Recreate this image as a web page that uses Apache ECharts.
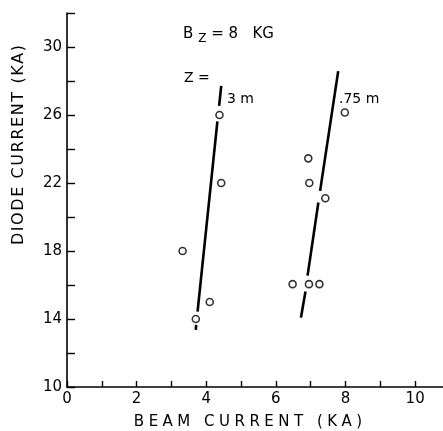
<!DOCTYPE html>
<html>
<head>
<meta charset="utf-8">
<script src="https://cdn.jsdelivr.net/npm/echarts@6/dist/echarts.min.js"></script>
<style>html,body{margin:0;padding:0;background:#fff}#c{width:443px;height:431px}</style>
</head>
<body>
<div id="c"></div>
<script>
// ---- data ----
var xName = 'BEAM CURRENT (KA)';
var yName = 'DIODE CURRENT (KA)';
var xTickLabels = [0, 2, 4, 6, 8, 10];
var yTickLabels = [10, 14, 18, 22, 26, 30];
// Z = 3 m
var x3 = [3.70, 4.10, 3.32, 4.43, 4.38];
var y3 = [14.0, 15.0, 18.0, 22.0, 26.0];
// Z = .75 m
var x75 = [6.48, 6.95, 7.25, 7.42, 6.96, 6.93, 7.98];
var y75 = [16.05, 16.05, 16.05, 21.1, 22.0, 23.45, 26.15];
// hand-drawn fit lines (broken around points)
var fit3 = [
  [[3.70, 13.36], [3.71, 13.65]],
  [[3.75, 14.44], [4.32, 25.62]],
  [[4.37, 26.53], [4.43, 27.72]]
];
var fit75 = [
  [[6.72, 14.08], [6.85, 15.62]],
  [[6.91, 16.55], [7.22, 20.85]],
  [[7.27, 21.54], [7.79, 28.58]]
];

function spaced(s, gap) {
  return s.split(' ').map(function (w) { return w.split('').join(gap); }).join(gap + ' ' + gap);
}
function pairs(xs, ys) { return xs.map(function (v, i) { return [v, ys[i]]; }); }

var FONT = 'DejaVu Sans';
var chart = echarts.init(document.getElementById('c'), null, { renderer: 'canvas' });

var series = [];
fit3.concat(fit75).forEach(function (seg) {
  series.push({
    type: 'line', data: seg, symbol: 'none', silent: true,
    lineStyle: { color: '#000', width: 2.6 }, z: 2
  });
});
series.push({
  type: 'scatter', data: pairs(x3, y3), symbol: 'circle', symbolSize: 7,
  itemStyle: { color: '#fff', borderColor: '#000', borderWidth: 1.6 }, z: 3
});
series.push({
  type: 'scatter', data: pairs(x75, y75), symbol: 'circle', symbolSize: 7,
  itemStyle: { color: '#fff', borderColor: '#000', borderWidth: 1.6 }, z: 3
});

chart.setOption({
  animation: false,
  backgroundColor: '#fff',
  grid: { left: 67, top: 13, width: 376, height: 374, outerBoundsMode: 'none', containLabel: false },
  xAxis: {
    type: 'value', min: 0, max: 10.8, interval: 1,
    name: spaced(xName, '\u2009\u200a'), nameLocation: 'middle', nameGap: 28,
    nameTextStyle: { color: '#000', fontFamily: FONT, fontSize: 15, padding: [0, 14, 0, 0] },
    axisLine: { show: true, lineStyle: { color: '#000', width: 1.6 } },
    axisTick: { show: true, inside: true, length: 6, lineStyle: { color: '#000', width: 1.4 } },
    axisLabel: {
      color: '#000', fontFamily: FONT, fontSize: 15, margin: 5, showMaxLabel: false,
      formatter: function (v) { return xTickLabels.indexOf(v) >= 0 ? String(v) : ''; }
    },
    splitLine: { show: false }
  },
  yAxis: {
    type: 'value', min: 10, max: 32, interval: 2,
    name: spaced(yName, '\u200a'), nameLocation: 'middle', nameGap: 40, nameRotate: 90,
    nameTextStyle: { color: '#000', fontFamily: FONT, fontSize: 16, padding: [0, 0, 0, 110] },
    axisLine: { show: true, lineStyle: { color: '#000', width: 1.6 } },
    axisTick: { show: true, inside: true, length: 8, lineStyle: { color: '#000', width: 1.4 } },
    axisLabel: {
      color: '#000', fontFamily: FONT, fontSize: 15, margin: 5,
      formatter: function (v) { return yTickLabels.indexOf(v) >= 0 ? String(v) : ''; }
    },
    splitLine: { show: false }
  },
  graphic: [
    { type: 'text', left: 183, top: 27, style: {
      text: 'B{s|Z} = 8   KG', fill: '#000', font: '15px ' + FONT,
      rich: { s: { fontSize: 12, fontFamily: FONT, padding: [9, 0, 0, 5] } } } },
    { type: 'text', left: 184, top: 71, style: { text: 'Z =', fill: '#000', font: '14px ' + FONT } },
    { type: 'text', left: 227, top: 92, style: { text: '3 m', fill: '#000', font: '14px ' + FONT } },
    { type: 'text', left: 339, top: 92, style: { text: '.75 m', fill: '#000', font: '14px ' + FONT } }
  ],
  series: series
});
</script>
</body>
</html>
